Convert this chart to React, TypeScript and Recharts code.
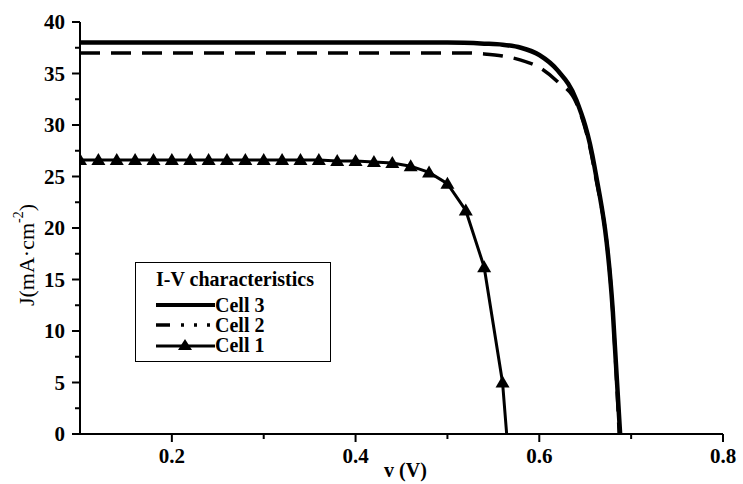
import { LineChart, Line, XAxis, YAxis, Legend } from 'recharts';

// Cell 1 (triangles)
const cell1Voltage = [0.10, 0.12, 0.14, 0.16, 0.18, 0.20, 0.22, 0.24, 0.26, 0.28, 0.30, 0.32, 0.34, 0.36, 0.38, 0.40, 0.42, 0.44, 0.46, 0.48, 0.50, 0.52, 0.54, 0.56, 0.5645];
const cell1Current = [26.6, 26.6, 26.6, 26.6, 26.6, 26.6, 26.6, 26.6, 26.6, 26.6, 26.6, 26.6, 26.6, 26.6, 26.5, 26.5, 26.4, 26.3, 26.0, 25.4, 24.3, 21.7, 16.2, 5.0, 0];

// Cell 2 (dashed)
const cell2Voltage = [0.10, 0.20, 0.30, 0.40, 0.50, 0.52, 0.54, 0.56, 0.58, 0.60, 0.62, 0.64, 0.66, 0.68, 0.687];
const cell2Current = [37.0, 37.0, 37.0, 37.0, 37.0, 37.0, 36.9, 36.7, 36.3, 35.6, 34.2, 32.2, 25.6, 11.8, 0];

// Cell 3 (solid)
const cell3Voltage = [0.10, 0.20, 0.30, 0.40, 0.50, 0.54, 0.56, 0.58, 0.60, 0.62, 0.64, 0.66, 0.68, 0.688];
const cell3Current = [38.0, 38.0, 38.0, 38.0, 38.0, 37.9, 37.8, 37.5, 36.8, 35.3, 32.5, 26.0, 12.0, 0];

const xTicks = [0.2, 0.3, 0.4, 0.5, 0.6, 0.7, 0.8];
const xLabeled = [0.2, 0.4, 0.6, 0.8];
const yTicks = [0, 2.5, 5, 7.5, 10, 12.5, 15, 17.5, 20, 22.5, 25, 27.5, 30, 32.5, 35, 37.5, 40];
const yLabeled = [0, 5, 10, 15, 20, 25, 30, 35, 40];

const cell1 = cell1Voltage.map((v, i) => ({ v, j: cell1Current[i], marker: i < cell1Voltage.length - 1 }));
const cell2 = cell2Voltage.map((v, i) => ({ v, j: cell2Current[i] }));
const cell3 = cell3Voltage.map((v, i) => ({ v, j: cell3Current[i] }));

const FONT = '"Liberation Serif", "Times New Roman", serif';

function TriangleDot(props: any) {
    const { cx, cy, payload, index } = props;
    if (!payload || !payload.marker) return <g key={index} />;
    return (
        <path
            key={index}
            d={`M${cx},${cy - 7} L${cx + 7},${cy + 5} L${cx - 7},${cy + 5} Z`}
            fill="#000"
        />
    );
}

function XTick({ x, y, payload }: any) {
    const major = xLabeled.includes(payload.value);
    return (
        <g>
            <line x1={x} x2={x} y1={y} y2={y + (major ? 8 : 5)} stroke="#000" strokeWidth={2} />
            {major && (
                <text x={x} y={y + 29} textAnchor="middle" fontFamily={FONT} fontWeight="bold" fontSize={21} fill="#000">
                    {String(payload.value)}
                </text>
            )}
        </g>
    );
}

function YTick({ x, y, payload }: any) {
    const major = yLabeled.includes(payload.value);
    return (
        <g>
            <line x1={x} x2={x - (major ? 8 : 5)} y1={y} y2={y} stroke="#000" strokeWidth={2} />
            {major && (
                <text x={x - 15} y={y + 7} textAnchor="end" fontFamily={FONT} fontWeight="bold" fontSize={21} fill="#000">
                    {String(payload.value)}
                </text>
            )}
        </g>
    );
}

function YLabel({ viewBox }: any) {
    const cx = viewBox.x + 16;
    const cy = viewBox.y + viewBox.height / 2 + 27;
    return (
        <text
            x={cx}
            y={cy}
            transform={`rotate(-90, ${cx}, ${cy})`}
            textAnchor="middle"
            dominantBaseline="central"
            fontFamily={FONT}
            fontSize={22}
            fill="#000"
        >
            J(mA·cm
            <tspan dy={-8} fontSize={14}>-2</tspan>
            <tspan dy={8}>)</tspan>
        </text>
    );
}

const legendItems = [
    { name: 'Cell 3', kind: 'solid' },
    { name: 'Cell 2', kind: 'dash' },
    { name: 'Cell 1', kind: 'triangle' },
];

function LegendSample({ kind }: { kind: string }) {
    return (
        <svg width={59} height={16} style={{ display: 'block' }}>
            {kind === 'solid' && <line x1={0} x2={59} y1={8} y2={8} stroke="#000" strokeWidth={4} />}
            {kind === 'dash' && (
                <line x1={0} x2={59} y1={8} y2={8} stroke="#000" strokeWidth={3.5} strokeDasharray="14 11 3 10 3 10 3" />
            )}
            {kind === 'triangle' && (
                <g>
                    <line x1={0} x2={59} y1={9} y2={9} stroke="#000" strokeWidth={3} />
                    <path d="M29,2 L36,13 L22,13 Z" fill="#000" />
                </g>
            )}
        </svg>
    );
}

function IVLegend() {
    return (
        <div
            style={{
                border: '1.5px solid #000',
                background: '#fff',
                width: 196,
                height: 100,
                boxSizing: 'border-box',
                padding: '6px 0 0 20px',
                fontFamily: FONT,
                fontWeight: 'bold',
                fontSize: 20,
                color: '#000',
                lineHeight: '20px',
                textAlign: 'left',
            }}
        >
            <div style={{ marginBottom: 6 }}>I-V characteristics</div>
            {legendItems.map(item => (
                <div key={item.name} style={{ display: 'flex', alignItems: 'center', height: 20 }}>
                    <LegendSample kind={item.kind} />
                    <span>{item.name}</span>
                </div>
            ))}
        </div>
    );
}

export default function App() {
    return (
        <div style={{ position: 'absolute', left: 0, top: 0, background: '#fff' }}>
            <LineChart width={743} height={484} margin={{ top: 22, right: 20, bottom: 20, left: 10 }}>
                <XAxis
                    type="number"
                    dataKey="v"
                    domain={[0.1, 0.8]}
                    ticks={xTicks}
                    tick={<XTick />}
                    tickSize={0}
                    tickMargin={0}
                    tickLine={false}
                    height={30}
                    axisLine={{ stroke: '#000', strokeWidth: 2 }}
                    allowDataOverflow
                    label={{
                        value: 'v (V)',
                        position: 'bottom',
                        offset: -1,
                        dx: 4,
                        style: { fontFamily: FONT, fontWeight: 'bold', fontSize: 20, fill: '#000' },
                    }}
                />
                <YAxis
                    type="number"
                    dataKey="j"
                    domain={[0, 40]}
                    ticks={yTicks}
                    tick={<YTick />}
                    tickSize={0}
                    tickMargin={0}
                    tickLine={false}
                    width={70}
                    axisLine={{ stroke: '#000', strokeWidth: 2 }}
                    allowDataOverflow
                    label={<YLabel />}
                />
                <Legend
                    content={<IVLegend />}
                    layout="vertical"
                    verticalAlign="middle"
                    align="center"
                    wrapperStyle={{ left: 135, top: 262, width: 196, height: 100 }}
                />
                <Line
                    data={cell1}
                    dataKey="j"
                    name="Cell 1"
                    type="linear"
                    stroke="#000"
                    strokeWidth={3}
                    dot={<TriangleDot />}
                    activeDot={false}
                    isAnimationActive={false}
                />
                <Line
                    data={cell2}
                    dataKey="j"
                    name="Cell 2"
                    type="monotone"
                    stroke="#000"
                    strokeWidth={3.5}
                    strokeDasharray="20 11"
                    dot={false}
                    activeDot={false}
                    isAnimationActive={false}
                />
                <Line
                    data={cell3}
                    dataKey="j"
                    name="Cell 3"
                    type="monotone"
                    stroke="#000"
                    strokeWidth={4.5}
                    dot={false}
                    activeDot={false}
                    isAnimationActive={false}
                />
            </LineChart>
        </div>
    );
}
